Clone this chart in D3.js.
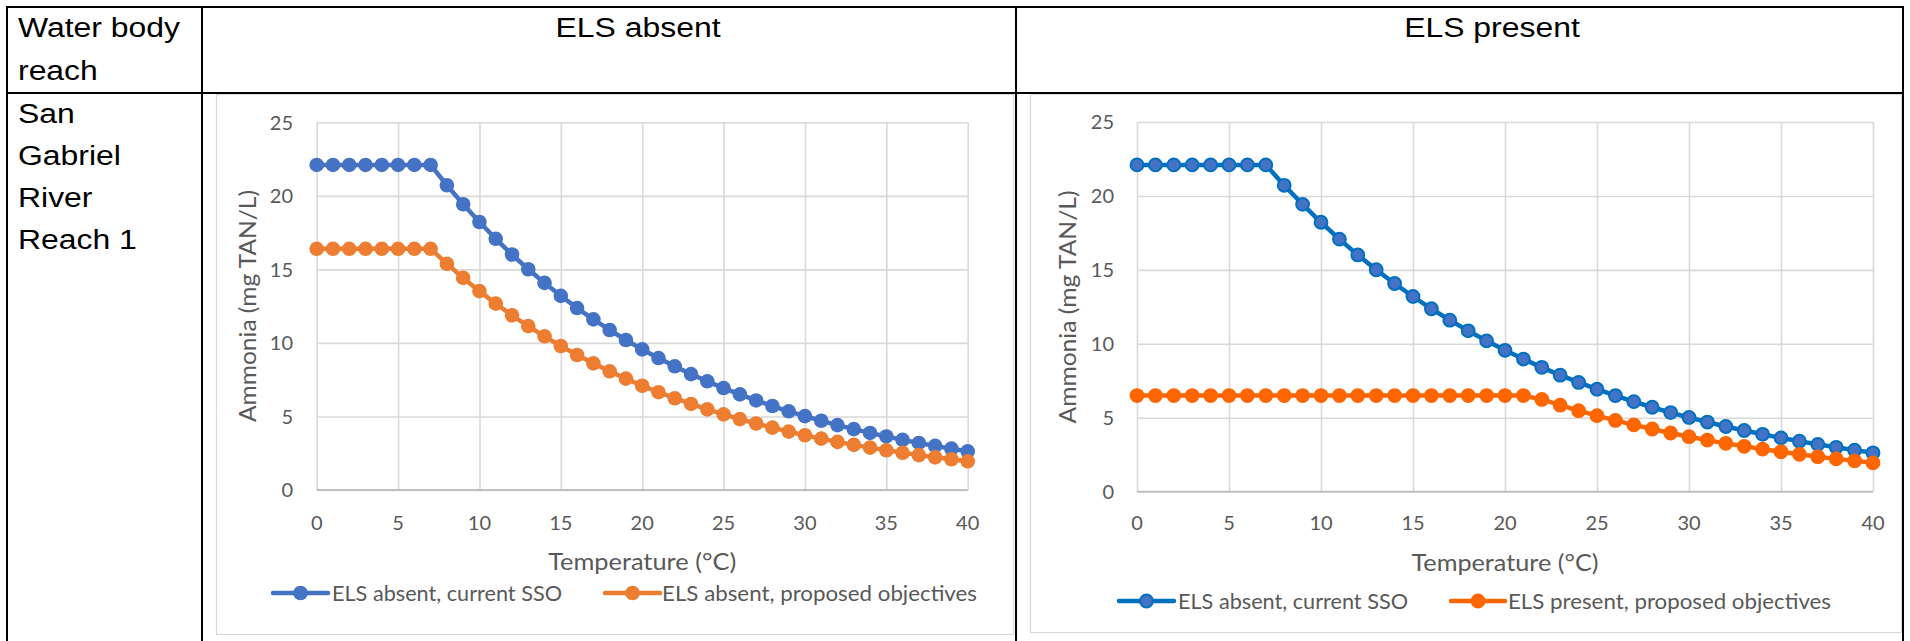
<!DOCTYPE html>
<html><head><meta charset="utf-8">
<script src="https://cdn.jsdelivr.net/npm/d3@7"></script>
<style>body{margin:0;background:#fff;} svg{display:block;}</style>
</head><body>
<svg id="c" width="1910" height="641"></svg>
<script>
// ---------------- data ----------------
const temperatures = [0,1,2,3,4,5,6,7,8,9,10,11,12,13,14,15,16,17,18,19,20,21,22,23,24,25,26,27,28,29,30,31,32,33,34,35,36,37,38,39,40];
const xTickValues = [0,5,10,15,20,25,30,35,40];
const yTickValues = [0,5,10,15,20,25];
const elsAbsentCurrentSSO = [22.1,22.1,22.1,22.1,22.1,22.1,22.1,22.1,20.72,19.43,18.22,17.08,16.01,15.01,14.08,13.20,12.37,11.60,10.88,10.20,9.56,8.97,8.41,7.88,7.39,6.93,6.50,6.09,5.71,5.35,5.02,4.71,4.41,4.14,3.88,3.64,3.41,3.20,3.00,2.81,2.63];
const elsAbsentProposed = [16.4,16.4,16.4,16.4,16.4,16.4,16.4,16.4,15.38,14.42,13.52,12.67,11.88,11.14,10.45,9.79,9.18,8.61,8.07,7.57,7.09,6.65,6.24,5.85,5.48,5.14,4.82,4.52,4.24,3.97,3.72,3.49,3.27,3.07,2.88,2.70,2.53,2.37,2.22,2.09,1.95];
const elsPresentProposed = [6.5,6.5,6.5,6.5,6.5,6.5,6.5,6.5,6.5,6.5,6.5,6.5,6.5,6.5,6.5,6.5,6.5,6.5,6.5,6.5,6.5,6.5,6.24,5.85,5.48,5.14,4.82,4.52,4.24,3.97,3.72,3.49,3.27,3.07,2.88,2.70,2.53,2.37,2.22,2.09,1.95];
const firstHeaderLines = ["Water body","reach"];
const columnHeaders = ["ELS absent","ELS present"];
const rowLabelLines = ["San","Gabriel","River","Reach 1"];
const xAxisTitle = "Temperature (°C)";
const yAxisTitle = "Ammonia (mg TAN/L)";
const seriesNames1 = ["ELS absent, current SSO","ELS absent, proposed objectives"];
const seriesNames2 = ["ELS absent, current SSO","ELS present, proposed objectives"];

// ---------------- drawing ----------------
const svg = d3.select("#c");
svg.append("rect").attr("width",1910).attr("height",641).attr("fill","#fff");

const chartFont = "Lato, 'Open Sans', sans-serif";
const textColor = "#595959";

function drawChart(cfg){
  const g = svg.append("g");
  g.append("rect").attr("x",cfg.box[0]+0.5).attr("y",cfg.box[1]+0.5)
    .attr("width",cfg.box[2]-cfg.box[0]).attr("height",cfg.box[3]-cfg.box[1])
    .attr("fill","#fff").attr("stroke","#d9d9d9").attr("stroke-width",1.2);

  const x = d3.scaleLinear().domain([0,40]).range([cfg.plot[0],cfg.plot[1]]);
  const y = d3.scaleLinear().domain([0,25]).range([cfg.plot[3],cfg.plot[2]]);

  // gridlines
  const gx = g.append("g").attr("transform",`translate(0,${cfg.plot[3]})`)
    .call(d3.axisBottom(x).tickValues(xTickValues).tickSize(-(cfg.plot[3]-cfg.plot[2])).tickFormat(""));
  gx.select(".domain").remove();
  gx.selectAll("line").attr("stroke","#d9d9d9").attr("stroke-width",1.6);
  const gy = g.append("g").attr("transform",`translate(${cfg.plot[0]},0)`)
    .call(d3.axisLeft(y).tickValues(yTickValues).tickSize(-(cfg.plot[1]-cfg.plot[0])).tickFormat(""));
  gy.select(".domain").remove();
  gy.selectAll("line").attr("stroke","#d9d9d9").attr("stroke-width",1.6);
  // bottom axis line
  g.append("line").attr("x1",cfg.plot[0]).attr("x2",cfg.plot[1])
    .attr("y1",y(0)).attr("y2",y(0)).attr("stroke","#bfbfbf").attr("stroke-width",1.8);

  // tick labels
  g.append("g").selectAll("text").data(xTickValues).join("text")
    .attr("x",d=>x(d)).attr("y",cfg.xTickBase).attr("text-anchor","middle")
    .attr("font-family",chartFont).attr("font-size",20).attr("fill",textColor).text(d=>d);
  g.append("g").selectAll("text").data(yTickValues).join("text")
    .attr("x",cfg.yLabelRight).attr("y",d=>y(d)).attr("dy","0.36em").attr("text-anchor","end")
    .attr("font-family",chartFont).attr("font-size",20).attr("fill",textColor).text(d=>d);

  // axis titles
  g.append("text").attr("x",(cfg.plot[0]+cfg.plot[1])/2 - cfg.xTitleLen/2).attr("y",cfg.xTitleBase)
    .attr("font-family",chartFont).attr("font-size",22.5).attr("fill",textColor)
    .attr("textLength",cfg.xTitleLen).attr("lengthAdjust","spacingAndGlyphs").text(xAxisTitle);
  g.append("text").attr("transform",`translate(${cfg.yTitleX},${cfg.yTitleCy}) rotate(-90)`)
    .attr("x",-cfg.yTitleLen/2).attr("dy","0.35em")
    .attr("font-family",chartFont).attr("font-size",22.5).attr("fill",textColor)
    .attr("textLength",cfg.yTitleLen).attr("lengthAdjust","spacingAndGlyphs").text(yAxisTitle);

  // series
  const line = d3.line().x((d,i)=>x(temperatures[i])).y(d=>y(d));
  cfg.series.forEach(s=>{
    g.append("path").datum(s.data).attr("d",line).attr("fill","none")
      .attr("stroke",s.line).attr("stroke-width",cfg.lw).attr("stroke-linejoin","round");
    g.append("g").selectAll("circle").data(s.data).join("circle")
      .attr("cx",(d,i)=>x(temperatures[i])).attr("cy",d=>y(d)).attr("r",cfg.r)
      .attr("fill",s.fill).attr("stroke",s.stroke).attr("stroke-width",s.sw);
  });

  // legend
  cfg.series.forEach(s=>{
    const lg = g.append("g");
    lg.append("line").attr("x1",s.lx0).attr("x2",s.lx1).attr("y1",cfg.legendY).attr("y2",cfg.legendY)
      .attr("stroke",s.line).attr("stroke-width",cfg.lw).attr("stroke-linecap","round");
    lg.append("circle").attr("cx",(s.lx0+s.lx1)/2).attr("cy",cfg.legendY).attr("r",cfg.r)
      .attr("fill",s.fill).attr("stroke",s.stroke).attr("stroke-width",s.sw);
    lg.append("text").attr("x",s.tx).attr("y",cfg.legendY).attr("dy","0.36em")
      .attr("font-family",chartFont).attr("font-size",21).attr("fill",textColor)
      .attr("textLength",s.tlen).attr("lengthAdjust","spacingAndGlyphs").text(s.name);
  });
}

drawChart({
  box:[216,94,1013,634], plot:[316.7,967.7,122.3,490],
  yLabelRight:293, xTickBase:530, xTitleBase:570, xTitleLen:188,
  yTitleX:248, yTitleCy:306, yTitleLen:232, legendY:593, lw:4.5, r:7.3,
  series:[
    {name:seriesNames1[0], data:elsAbsentCurrentSSO, line:"#4472c4", fill:"#4472c4", stroke:"#4472c4", sw:0, lx0:273, lx1:328, tx:332, tlen:230},
    {name:seriesNames1[1], data:elsAbsentProposed, line:"#ed7d31", fill:"#ed7d31", stroke:"#ed7d31", sw:0, lx0:605, lx1:660, tx:662, tlen:315}
  ]
});
drawChart({
  box:[1030,94,1901,632], plot:[1137,1873,122,491.7],
  yLabelRight:1114, xTickBase:530, xTitleBase:571, xTitleLen:187,
  yTitleX:1068, yTitleCy:307, yTitleLen:233, legendY:601, lw:4.5, r:6.4,
  series:[
    {name:seriesNames2[0], data:elsAbsentCurrentSSO, line:"#0070c0", fill:"#4472c4", stroke:"#0070c0", sw:2, lx0:1119, lx1:1174, tx:1178, tlen:230},
    {name:seriesNames2[1], data:elsPresentProposed, line:"#ff6600", fill:"#ff6600", stroke:"#ff6600", sw:2, lx0:1451, lx1:1505, tx:1508, tlen:323}
  ]
});

// ---------------- table ----------------
const tg = svg.append("g");
const tableLines = [
  [7,7,1903,7],[7,93,1903,93],
  [7,7,7,641],[202,7,202,641],[1016,7,1016,641],[1903,7,1903,641]
];
tg.selectAll("line").data(tableLines).join("line")
  .attr("x1",d=>d[0]).attr("y1",d=>d[1]).attr("x2",d=>d[2]).attr("y2",d=>d[3])
  .attr("stroke","#000").attr("stroke-width",2).attr("stroke-linecap","square");

const tableFont = "'Liberation Sans', Arial, sans-serif";
function tableText(str, x, y, anchor){
  tg.append("text").attr("transform",`translate(${x},${y}) scale(1.14,1)`)
    .attr("text-anchor",anchor||"start").attr("font-family",tableFont).attr("font-size",28)
    .attr("fill","#000").text(str);
}
firstHeaderLines.forEach((t,i)=>tableText(t,18,36.7+i*43.3));
rowLabelLines.forEach((t,i)=>tableText(t,18,123+i*42));
tableText(columnHeaders[0],638,36.7,"middle");
tableText(columnHeaders[1],1492,36.7,"middle");
</script>
</body></html>
